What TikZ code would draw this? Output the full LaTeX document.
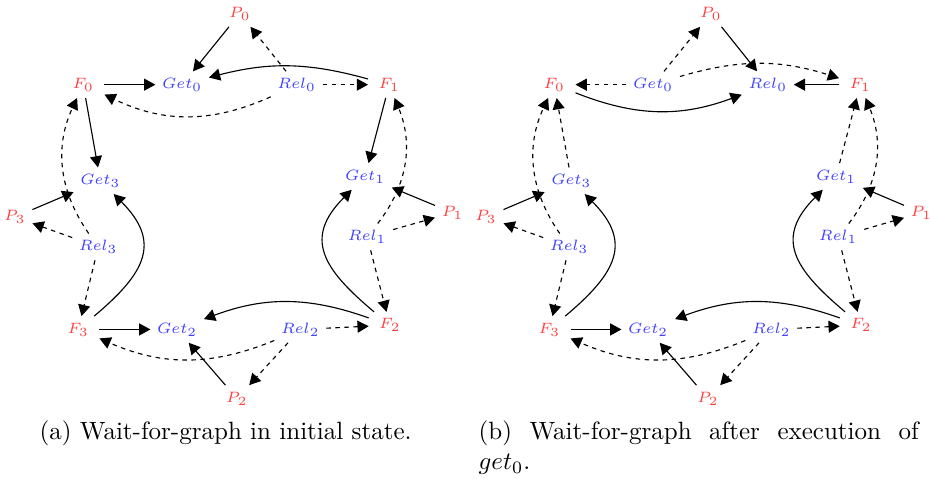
\documentclass[tikz,border=0pt]{standalone}
\usepackage{amsmath}
\usepackage{tikz}
\usetikzlibrary{arrows.meta}

\begin{document}
\begin{tikzpicture}[
  proc/.style={text=red!75, font=\fontsize{6}{7}\selectfont, inner sep=2.5pt},
  fork/.style={proc, inner xsep=4pt},
  act/.style={text=blue!75, font=\fontsize{6}{7}\selectfont, inner sep=2.5pt},
  arrow/.style={-{Triangle[length=4.5pt,width=4.8pt]}, line width=0.45pt},
  warrow/.style={arrow, dash pattern=on 1.8pt off 1.8pt},
  sidebend/.style={looseness=1.4}
]
\useasboundingbox (0,0) rectangle (13.07,6.73);

% (a) initial state
\node[proc] (aP0) at (3.37, 6.54) {$P_0$};
\node[fork] (aF0) at (1.17, 5.54) {$F_0$};
\node[act] (aGet0) at (2.56, 5.54) {$Get_0$};
\node[act] (aRel0) at (4.17, 5.54) {$Rel_0$};
\node[fork] (aF1) at (5.47, 5.54) {$F_1$};
\node[act] (aGet3) at (1.41, 4.19) {$Get_3$};
\node[act] (aGet1) at (5.13, 4.25) {$Get_1$};
\node[proc] (aP3) at (0.21, 3.68) {$P_3$};
\node[proc] (aP1) at (6.36, 3.74) {$P_1$};
\node[act] (aRel3) at (1.38, 3.26) {$Rel_3$};
\node[act] (aRel1) at (5.16, 3.40) {$Rel_1$};
\node[fork] (aF3) at (1.10, 2.10) {$F_3$};
\node[act] (aGet2) at (2.49, 2.10) {$Get_2$};
\node[act] (aRel2) at (4.22, 2.10) {$Rel_2$};
\node[fork] (aF2) at (5.48, 2.16) {$F_2$};
\node[proc] (aP2) at (3.33, 1.13) {$P_2$};

\draw[arrow] (aP0) -- (aGet0);
\draw[warrow] (aRel0) -- (aP0);
\draw[arrow] (aF0) -- (aGet0);
\draw[arrow] (aF1) to[bend right=15] (aGet0);
\draw[warrow] (aRel0) -- (aF1);
\draw[warrow] (aRel0) to[bend left=25] (aF0);

\draw[arrow] (aF0) -- (aGet3);
\draw[warrow] (aRel3) to[bend left=30] (aF0);
\draw[arrow] (aP3) -- (aGet3);
\draw[warrow] (aRel3) -- (aP3);
\draw[warrow] (aRel3) -- (aF3);
\draw[arrow] (aF3) to[out=40, in=-45, sidebend] (aGet3);

\draw[arrow] (aF3) -- (aGet2);
\draw[arrow] (aF2) to[bend right=20] (aGet2);
\draw[warrow] (aRel2) -- (aF2);
\draw[warrow] (aRel2) to[bend left=23] (aF3);
\draw[arrow] (aP2) -- (aGet2);
\draw[warrow] (aRel2) -- (aP2);

\draw[arrow] (aF1) -- (aGet1);
\draw[warrow] (aRel1) to[bend right=30] (aF1);
\draw[arrow] (aP1) -- (aGet1);
\draw[warrow] (aRel1) -- (aP1);
\draw[warrow] (aRel1) -- (aF2);
\draw[arrow] (aF2) to[out=140, in=-135, sidebend] (aGet1);

% (b) after get_0
\begin{scope}[xshift=6.62cm]
\node[proc] (bP0) at (3.37, 6.54) {$P_0$};
\node[fork] (bF0) at (1.17, 5.54) {$F_0$};
\node[act] (bGet0) at (2.56, 5.54) {$Get_0$};
\node[act] (bRel0) at (4.17, 5.54) {$Rel_0$};
\node[fork] (bF1) at (5.47, 5.54) {$F_1$};
\node[act] (bGet3) at (1.41, 4.19) {$Get_3$};
\node[act] (bGet1) at (5.13, 4.25) {$Get_1$};
\node[proc] (bP3) at (0.21, 3.68) {$P_3$};
\node[proc] (bP1) at (6.33, 3.74) {$P_1$};
\node[act] (bRel3) at (1.38, 3.26) {$Rel_3$};
\node[act] (bRel1) at (5.16, 3.40) {$Rel_1$};
\node[fork] (bF3) at (1.10, 2.10) {$F_3$};
\node[act] (bGet2) at (2.49, 2.10) {$Get_2$};
\node[act] (bRel2) at (4.22, 2.10) {$Rel_2$};
\node[fork] (bF2) at (5.48, 2.16) {$F_2$};
\node[proc] (bP2) at (3.33, 1.13) {$P_2$};
\end{scope}

\draw[warrow] (bGet0) -- (bP0);
\draw[arrow] (bP0) -- (bRel0);
\draw[warrow] (bGet0) -- (bF0);
\draw[arrow] (bF1) -- (bRel0);
\draw[warrow] (bGet0) to[bend left=17] (bF1);
\draw[arrow] (bF0) to[bend right=21] (bRel0);

\draw[warrow] (bGet3) -- (bF0);
\draw[warrow] (bRel3) to[bend left=30] (bF0);
\draw[arrow] (bP3) -- (bGet3);
\draw[warrow] (bRel3) -- (bP3);
\draw[warrow] (bRel3) -- (bF3);
\draw[arrow] (bF3) to[out=40, in=-45, sidebend] (bGet3);

\draw[arrow] (bF3) -- (bGet2);
\draw[arrow] (bF2) to[bend right=20] (bGet2);
\draw[warrow] (bRel2) -- (bF2);
\draw[warrow] (bRel2) to[bend left=23] (bF3);
\draw[arrow] (bP2) -- (bGet2);
\draw[warrow] (bRel2) -- (bP2);

\draw[warrow] (bGet1) -- (bF1);
\draw[warrow] (bRel1) to[bend right=30] (bF1);
\draw[arrow] (bP1) -- (bGet1);
\draw[warrow] (bRel1) -- (bP1);
\draw[warrow] (bRel1) -- (bF2);
\draw[arrow] (bF2) to[out=140, in=-135, sidebend] (bGet1);

\node[anchor=base, inner sep=0] (capa) at (3.17, 0.55) {(a) Wait-for-graph in initial state.};
\node[anchor=base west, inner sep=0, text width=176pt, align=justify] (capb) at (6.72, 0.55) {(b) Wait-for-graph after execution of $get_0$.};
\end{tikzpicture}
\end{document}
